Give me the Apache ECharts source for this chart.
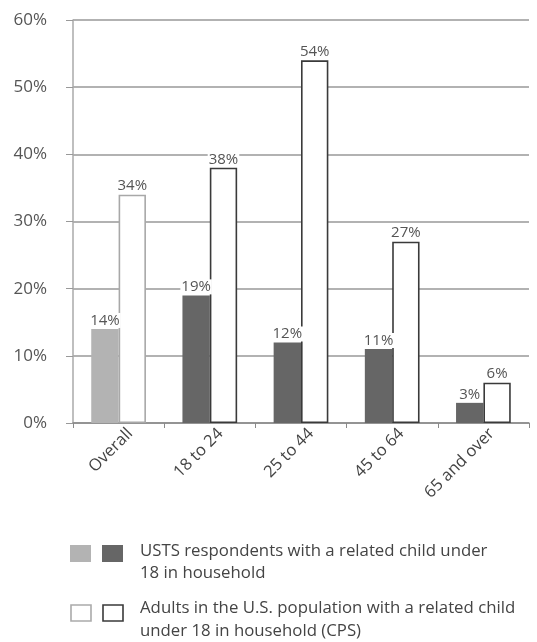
<!DOCTYPE html>
<html>
<head>
<meta charset="utf-8">
<script src="https://cdn.jsdelivr.net/npm/echarts@6/dist/echarts.min.js"></script>
<style>
  html, body { margin: 0; padding: 0; background: #fff; }
  #chart { width: 537px; height: 642px; }
</style>
</head>
<body>
<div id="chart"></div>
<script>
// Share of adults with a related child under 18 in the household, by age group
var categories = ['Overall', '18 to 24', '25 to 44', '45 to 64', '65 and over'];
var ustsValues = [14, 19, 12, 11, 3];
var cpsValues = [34, 38, 54, 27, 6];
var yTicks = [0, 10, 20, 30, 40, 50, 60];

var FONT = '"Open Sans", Lato, sans-serif';

// The "Overall" pair is drawn in lighter tones than the age groups
var ustsData = ustsValues.map(function (v, i) {
  return { value: v, itemStyle: { color: i === 0 ? '#b3b3b3' : '#666666' } };
});
var cpsData = cpsValues.map(function (v, i) {
  return { value: v, itemStyle: { color: '#ffffff', borderColor: i === 0 ? '#a8a8a8' : '#3a3a3a', borderWidth: 1.6 } };
});

var barLabel = {
  show: true,
  position: 'top',
  distance: 1,
  formatter: '{c}%',
  color: '#555',
  fontFamily: FONT,
  fontSize: 15,
  backgroundColor: '#fff',
  padding: [0, 1, 0, 1]
};

var PLOT_W = 456;

var chart = echarts.init(document.getElementById('chart'));
chart.setOption({
  animation: false,
  grid: [
    { left: 73, width: PLOT_W, top: 20, bottom: 219 },
    // companion grid nudged right, carrying only the slanted category names
    { left: 85, width: PLOT_W, top: 20, bottom: 219 }
  ],
  xAxis: [
    {
      type: 'category',
      data: categories,
      axisLine: { lineStyle: { color: '#8a8a8a', width: 1.5 } },
      axisTick: { show: true, length: 5, lineStyle: { color: '#8a8a8a' } },
      axisLabel: { show: false }
    },
    {
      type: 'category',
      gridIndex: 1,
      data: categories,
      axisLine: { show: false },
      axisTick: { show: false },
      axisLabel: { rotate: 45, color: '#444', fontFamily: FONT, fontSize: 16.5, margin: 8 }
    }
  ],
  yAxis: [
    {
      type: 'value',
      min: yTicks[0],
      max: yTicks[yTicks.length - 1],
      interval: 10,
      axisLine: { show: true, lineStyle: { color: '#aaaaaa', width: 1.5 } },
      axisTick: { show: true, length: 7, lineStyle: { color: '#999' } },
      splitLine: { lineStyle: { color: '#999999', width: 1.5 } },
      axisLabel: { formatter: '{value}%', color: '#555', fontFamily: FONT, fontSize: 17, margin: 26 }
    },
    {
      type: 'value',
      gridIndex: 1,
      min: yTicks[0],
      max: yTicks[yTicks.length - 1],
      show: false
    }
  ],
  series: [
    {
      name: 'USTS respondents with a related child under 18 in household',
      type: 'bar',
      data: ustsData,
      barGap: '0%',
      barCategoryGap: '40%',
      label: barLabel,
      z: 3
    },
    {
      name: 'Adults in the U.S. population with a related child under 18 in household (CPS)',
      type: 'bar',
      data: cpsData,
      label: barLabel,
      z: 3
    }
  ],
  graphic: [
    { type: 'rect', shape: { x: 70, y: 545, width: 21, height: 17 }, style: { fill: '#b3b3b3' } },
    { type: 'rect', shape: { x: 102, y: 545, width: 21, height: 17 }, style: { fill: '#666666' } },
    { type: 'text', left: 140, top: 540, style: { text: 'USTS respondents with a related child under\n18 in household', fill: '#444', font: '16.8px ' + FONT, lineHeight: 22 } },
    { type: 'rect', shape: { x: 71, y: 605, width: 20, height: 16 }, style: { fill: '#fff', stroke: '#aaaaaa', lineWidth: 1.6 } },
    { type: 'rect', shape: { x: 103, y: 605, width: 20, height: 16 }, style: { fill: '#fff', stroke: '#3a3a3a', lineWidth: 1.6 } },
    { type: 'text', left: 140, top: 597, style: { text: 'Adults in the U.S. population with a related child\nunder 18 in household (CPS)', fill: '#444', font: '16.8px ' + FONT, lineHeight: 23 } }
  ]
});
</script>
</body>
</html>
